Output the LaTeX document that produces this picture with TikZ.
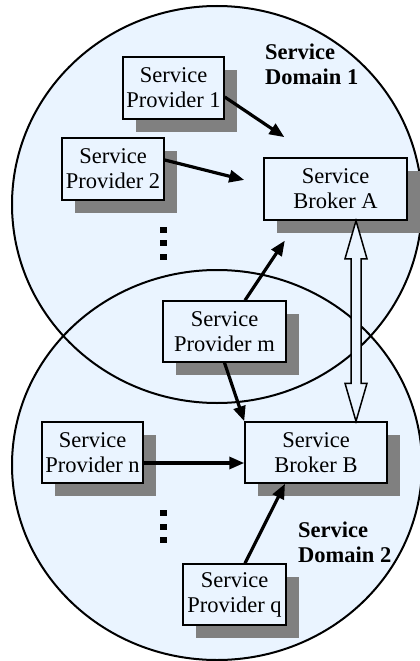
\documentclass[tikz,border=0pt]{standalone}
\usepackage{fontspec}
\setmainfont{Liberation Serif}
\usetikzlibrary{shadows,arrows.meta,calc}
\definecolor{domainfill}{RGB}{234,244,255}
\definecolor{shadegray}{RGB}{128,128,128}
\begin{document}
\begin{tikzpicture}[x=1pt,y=-1pt,
  domainarea/.style={draw=black, line width=2pt},
  unitbox/.style={draw=black, line width=1.5pt, fill=domainfill, inner sep=0pt,
    align=center, font=\fontsize{22.5}{25}\selectfont,
    drop shadow={shadow xshift=13pt, shadow yshift=-13pt, fill=shadegray, opacity=1}},
  flow/.style={line width=3.2pt, -{Triangle[length=15pt,width=12pt]}},
  domaintitle/.style={inner sep=0pt, align=left, anchor=north west,
    font=\fontsize{22.5}{25}\selectfont\bfseries},
  sync/.style={draw=black, line width=1.5pt, fill=domainfill, line join=miter}
]
\useasboundingbox (0,0) rectangle (420,661);
\clip (0,0) rectangle (420,661);

% the two service domains
\fill[domainfill] (217,204.5) ellipse [x radius=205, y radius=198.5];
\fill[domainfill] (217,465) ellipse [x radius=205, y radius=195];
\draw[domainarea] (217,204.5) ellipse [x radius=205, y radius=198.5];
\draw[domainarea] (217,465) ellipse [x radius=205, y radius=195];

% domain titles
\node[domaintitle] (d1) at (265,44) {Service\\Domain 1};
\node[domaintitle] (d2) at (298,522) {Service\\Domain 2};

% providers and brokers
\node[unitbox, minimum width=101pt, minimum height=62pt] (sp1) at (173.5,88) {Service\\Provider 1};
\node[unitbox, minimum width=102pt, minimum height=62pt] (sp2) at (113,169) {Service\\Provider 2};
\node[unitbox, minimum width=143pt, minimum height=62pt] (a) at (335.5,189) {Service\\Broker A};
\node[unitbox, minimum width=123pt, minimum height=61pt] (spm) at (224.5,331.5) {Service\\Provider m};
\node[unitbox, minimum width=142pt, minimum height=61pt] (b) at (316,452.5) {Service\\Broker B};
\node[unitbox, minimum width=101pt, minimum height=61pt] (spn) at (92.5,452.5) {Service\\Provider n};
\node[unitbox, minimum width=103pt, minimum height=61pt] (spq) at (234.5,594.5) {Service\\Provider q};

% registrations with the brokers
\draw[flow, shorten >=36pt] ($(sp1.east)+(0,9)$) -- ($(a.north west)+(51,0)$);
\draw[flow, shorten >=19.6pt] ($(sp2.east)+(0,-9)$) -- ($(a.west)+(0,-4.3)$);
\draw[flow, shorten >=23.9pt] ($(spm.north)+(20.5,0)$) -- ($(a.south)+(-37.4,0)$);
\draw[flow] (spm.south) -- (b.north west);
\draw[flow] ($(spn.east)+(0,10.5)$) -- ($(b.west)+(0,10.5)$);
\draw[flow] ($(spq.north)+(10.5,0)$) -- ($(b.south)+(-31,0)$);

% broker-to-broker link
\coordinate (ta) at ($(a.south)+(20.5,0)$);
\coordinate (tb) at ($(b.north)+(40,0)$);
\draw[sync] (ta) -- ($(ta)+(11,38)$) -- ($(ta)+(5,38)$) -- ($(tb)+(5,-38)$)
  -- ($(tb)+(11,-38)$) -- (tb) -- ($(tb)+(-11,-38)$) -- ($(tb)+(-5,-38)$)
  -- ($(ta)+(-5,38)$) -- ($(ta)+(-11,38)$) -- cycle;

% ellipsis marks
\foreach \y in {227,240,254} \fill (160,\y) rectangle ++(7,6);
\foreach \y in {510,524,537} \fill (160,\y) rectangle ++(7,6);
\end{tikzpicture}
\end{document}
